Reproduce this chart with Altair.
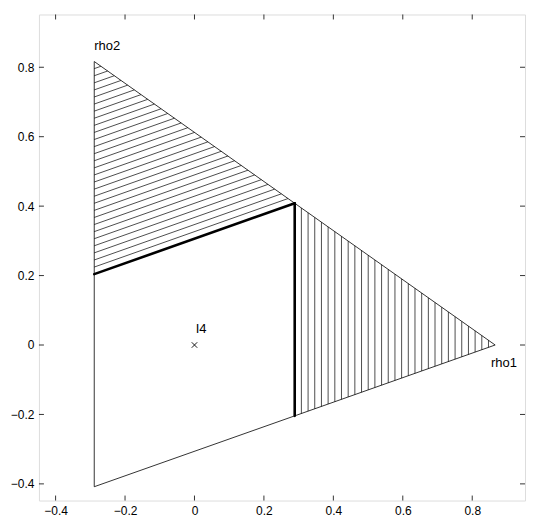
import altair as alt
import pandas as pd

# Triangle outline (closed)
tri_x = [-0.2887, 0.8660, -0.2887, -0.2887]
tri_y = [-0.4082, 0.0000, 0.8165, -0.4082]

# Thick boundary segments
thick_x1 = [-0.2887, 0.2887]
thick_y1 = [0.2041, 0.4082]
thick_x2 = [0.2887, 0.2887]
thick_y2 = [0.4082, -0.2041]

# Vertical hatching (right region)
vh_x = [0.3079, 0.3272, 0.3464, 0.3657, 0.3849, 0.4042, 0.4234, 0.4427, 0.4619, 0.4812,
        0.5004, 0.5196, 0.5389, 0.5581, 0.5774, 0.5966, 0.6159, 0.6351, 0.6544, 0.6736,
        0.6928, 0.7121, 0.7313, 0.7506, 0.7698, 0.7891, 0.8083, 0.8276, 0.8468]
vh_ylo = [-0.1973, -0.1905, -0.1837, -0.1769, -0.1701, -0.1633, -0.1565, -0.1497, -0.1429, -0.1361,
          -0.1293, -0.1225, -0.1157, -0.1089, -0.1021, -0.0953, -0.0884, -0.0816, -0.0748, -0.0680,
          -0.0612, -0.0544, -0.0476, -0.0408, -0.0340, -0.0272, -0.0204, -0.0136, -0.0068]
vh_yhi = [0.3946, 0.3810, 0.3674, 0.3538, 0.3402, 0.3265, 0.3129, 0.2993, 0.2857, 0.2721,
          0.2585, 0.2449, 0.2313, 0.2177, 0.2041, 0.1905, 0.1769, 0.1633, 0.1497, 0.1361,
          0.1224, 0.1088, 0.0952, 0.0816, 0.0680, 0.0544, 0.0408, 0.0272, 0.0136]

# Slanted hatching (upper region): from left edge to upper edge
sh_y1 = [0.2245, 0.2449, 0.2654, 0.2858, 0.3062, 0.3266, 0.3470, 0.3674, 0.3878, 0.4082,
         0.4286, 0.4490, 0.4695, 0.4899, 0.5103, 0.5307, 0.5511, 0.5715, 0.5919, 0.6123,
         0.6327, 0.6532, 0.6736, 0.6940, 0.7144, 0.7348, 0.7552, 0.7756, 0.7960]
sh_x2 = [0.2695, 0.2502, 0.2310, 0.2117, 0.1925, 0.1732, 0.1540, 0.1347, 0.1155, 0.0962,
         0.0770, 0.0577, 0.0385, 0.0193, 0.0000, -0.0192, -0.0385, -0.0577, -0.0770, -0.0962,
         -0.1155, -0.1347, -0.1540, -0.1732, -0.1925, -0.2117, -0.2310, -0.2502, -0.2695]
sh_y2 = [0.4218, 0.4354, 0.4490, 0.4626, 0.4762, 0.4898, 0.5035, 0.5171, 0.5307, 0.5443,
         0.5579, 0.5715, 0.5851, 0.5987, 0.6123, 0.6259, 0.6395, 0.6532, 0.6668, 0.6804,
         0.6940, 0.7076, 0.7212, 0.7348, 0.7484, 0.7620, 0.7756, 0.7892, 0.8028]
sh_x1 = [-0.2887] * len(sh_y1)

# Labels
lab_text = ["rho2", "rho1", "I4"]
lab_x = [-0.289, 0.854, 0.0035]
lab_y = [0.850, -0.0645, 0.035]

# Center marker
mk_x = [0.0]
mk_y = [0.0]

# Ticks
tick_vals = [-0.4, -0.2, 0.0, 0.2, 0.4, 0.6, 0.8]

dom = [-0.448, 0.952]
W = 487
H = 487
FONT = "Liberation Sans"

xs = alt.Scale(domain=dom, nice=False, zero=False)
ys = alt.Scale(domain=dom, nice=False, zero=False)

xaxis = alt.Axis(values=tick_vals, format=".1~f", grid=False, ticks=False, domain=False,
                 labelFont=FONT, labelFontSize=12, labelColor="black", labelPadding=5,
                 title=None)
yaxis = alt.Axis(values=tick_vals, format=".1~f", grid=False, ticks=False, domain=False,
                 labelFont=FONT, labelFontSize=12, labelColor="black", labelPadding=5,
                 title=None)

tri_df = pd.DataFrame({"x": tri_x, "y": tri_y, "o": list(range(len(tri_x)))})
tri = alt.Chart(tri_df).mark_line(color="black", strokeWidth=0.8).encode(
    x=alt.X("x:Q", scale=xs, axis=xaxis),
    y=alt.Y("y:Q", scale=ys, axis=yaxis),
    order="o:Q",
)

vh_df = pd.DataFrame({"x": vh_x, "y": vh_ylo, "y2": vh_yhi})
vh = alt.Chart(vh_df).mark_rule(color="black", strokeWidth=0.7).encode(
    x=alt.X("x:Q", scale=xs), y=alt.Y("y:Q", scale=ys), y2="y2:Q"
)

sh_df = pd.DataFrame({"x": sh_x1, "y": sh_y1, "x2": sh_x2, "y2": sh_y2})
sh = alt.Chart(sh_df).mark_rule(color="black", strokeWidth=0.7).encode(
    x=alt.X("x:Q", scale=xs), y=alt.Y("y:Q", scale=ys), x2="x2:Q", y2="y2:Q"
)

th_df = pd.DataFrame({"x": thick_x1, "y": thick_y1, "x2": thick_x2, "y2": thick_y2})
th = alt.Chart(th_df).mark_rule(color="black", strokeWidth=2.6, strokeCap="round").encode(
    x=alt.X("x:Q", scale=xs), y=alt.Y("y:Q", scale=ys), x2="x2:Q", y2="y2:Q"
)

mk_df = pd.DataFrame({"x": mk_x, "y": mk_y})
mk = alt.Chart(mk_df).mark_point(shape="M-1,-1L1,1M-1,1L1,-1", size=30, filled=False,
                                 color="black", strokeWidth=0.9, opacity=1).encode(
    x=alt.X("x:Q", scale=xs), y=alt.Y("y:Q", scale=ys)
)

lab_df = pd.DataFrame({"t": lab_text, "x": lab_x, "y": lab_y})
lab = alt.Chart(lab_df).mark_text(align="left", baseline="alphabetic", font=FONT,
                                  fontSize=13, color="black").encode(
    x=alt.X("x:Q", scale=xs), y=alt.Y("y:Q", scale=ys), text="t:N"
)

tdf = pd.DataFrame({"v": tick_vals})
TL = 5
tb = alt.Chart(tdf).mark_rule(color="black", strokeWidth=0.8).encode(
    x=alt.X("v:Q", scale=xs), y=alt.value(H), y2=alt.value(H - TL))
tt = alt.Chart(tdf).mark_rule(color="black", strokeWidth=0.8).encode(
    x=alt.X("v:Q", scale=xs), y=alt.value(0), y2=alt.value(TL))
tl = alt.Chart(tdf).mark_rule(color="black", strokeWidth=0.8).encode(
    y=alt.Y("v:Q", scale=ys), x=alt.value(0), x2=alt.value(TL))
tr = alt.Chart(tdf).mark_rule(color="black", strokeWidth=0.8).encode(
    y=alt.Y("v:Q", scale=ys), x=alt.value(W), x2=alt.value(W - TL))

chart = alt.layer(tri, vh, sh, th, mk, lab, tb, tt, tl, tr).properties(
    width=W, height=H,
    padding={"left": 2, "top": 5, "right": 0, "bottom": 0},
).configure_view(stroke="black", strokeWidth=1).configure(background="white")

chart.save("out.html", embed_options={"renderer": "svg", "actions": False})
